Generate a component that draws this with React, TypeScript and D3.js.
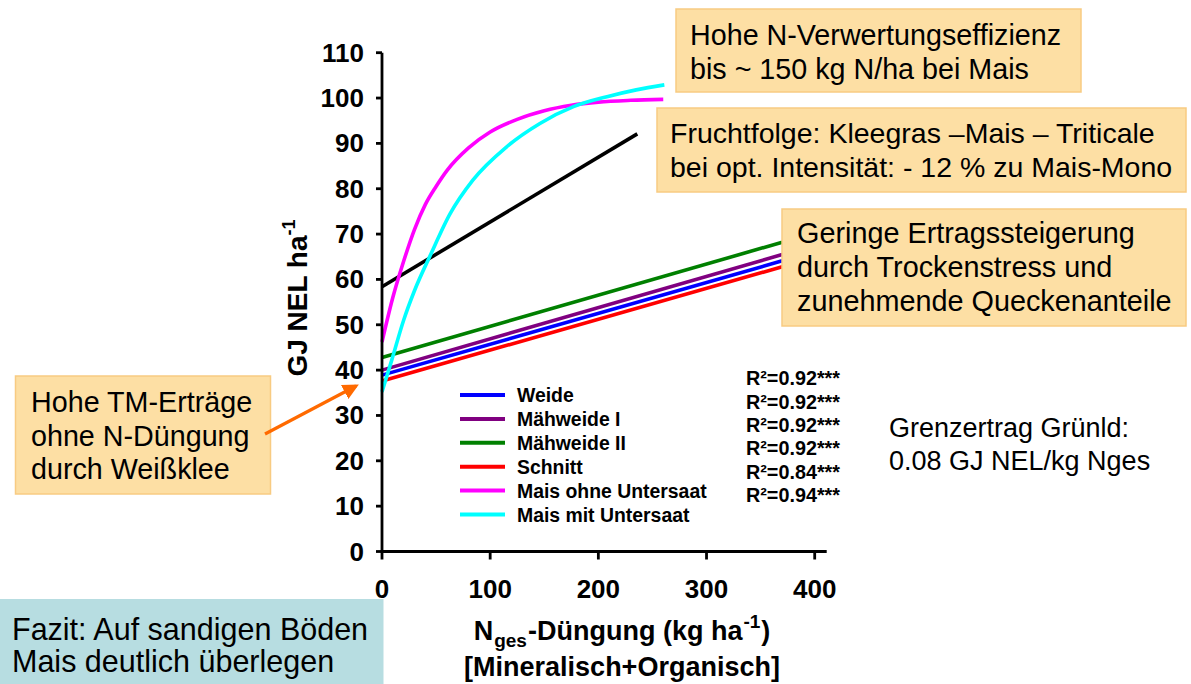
import React from "react";
import * as d3 from "d3";

// ---------- data ----------
const xTicks = [0, 100, 200, 300, 400];
const yTicks = [0, 10, 20, 30, 40, 50, 60, 70, 80, 90, 100, 110];

type Pt = [number, number];
const weide: Pt[] = [[0, 38.9], [370, 64.1]];
const maehweide1: Pt[] = [[0, 40.0], [370, 65.5]];
const maehweide2: Pt[] = [[0, 42.8], [370, 68.2]];
const schnitt: Pt[] = [[0, 37.6], [370, 62.8]];
const fruchtfolge: Pt[] = [[0, 58.4], [236, 92.1]];
const maisOhne: Pt[] = [
  [0, 46.2], [10, 56], [20, 64], [30, 71], [40, 76.5], [50, 80.5], [60, 84],
  [80, 89], [100, 92.5], [125, 95.3], [150, 97.2], [175, 98.4], [200, 99.1],
  [230, 99.5], [260, 99.7],
];
const maisMit: Pt[] = [
  [0, 35.2], [9, 42.2], [20, 51], [30, 57.5], [45, 65.5], [63, 74.5], [84, 81.9],
  [115, 89.2], [146, 94.4], [177, 98.1], [208, 100.3], [235, 101.8], [261, 102.9],
];

const legendNames = ["Weide", "Mähweide I", "Mähweide II", "Schnitt", "Mais ohne Untersaat", "Mais mit Untersaat"];
const legendColors = ["#0000FF", "#800080", "#008000", "#FF0000", "#FF00FF", "#00FFFF"];
const r2Labels = ["R²=0.92***", "R²=0.92***", "R²=0.92***", "R²=0.92***", "R²=0.84***", "R²=0.94***"];

const box1Lines = ["Hohe N-Verwertungseffizienz", "bis ~ 150 kg N/ha bei Mais"];
const box2Lines = ["Fruchtfolge: Kleegras –Mais – Triticale", "bei opt. Intensität: - 12 % zu Mais-Mono"];
const box3Lines = ["Geringe Ertragssteigerung", "durch Trockenstress und", "zunehmende Queckenanteile"];
const box4Lines = ["Hohe TM-Erträge", "ohne N-Düngung", "durch Weißklee"];
const grenzLines = ["Grenzertrag Grünld:", "0.08 GJ NEL/kg Nges"];
const fazitLines = ["Fazit: Auf sandigen Böden", "Mais deutlich überlegen"];

// ---------- layout ----------
const W = 1191;
const H = 684;
const FONT = "'Liberation Sans', Arial, Helvetica, sans-serif";
const x = d3.scaleLinear().domain([0, 400]).range([382, 814.7]);
const y = d3.scaleLinear().domain([0, 110]).range([551.5, 52.7]);

const line = d3.line<Pt>().x((d) => x(d[0])).y((d) => y(d[1]));
const smooth = d3.line<Pt>().x((d) => x(d[0])).y((d) => y(d[1])).curve(d3.curveMonotoneX);

const BOX_FILL = "#FDDFA4";
const BOX_STROKE = "#F8CB82";

function Box({ x0, y0, w, h, lines, tx, ty, lh, fs }: any) {
  return (
    <g>
      <rect x={x0} y={y0} width={w} height={h} fill={BOX_FILL} stroke={BOX_STROKE} strokeWidth={1.5} />
      {lines.map((t: string, i: number) => (
        <text key={i} x={tx} y={ty + i * lh} fontSize={fs} fontFamily={FONT} fill="#000">
          {t}
        </text>
      ))}
    </g>
  );
}

export default function App() {
  const series: { d: Pt[]; c: string; s: boolean }[] = [
    { d: maehweide2, c: legendColors[2], s: false },
    { d: maehweide1, c: legendColors[1], s: false },
    { d: weide, c: legendColors[0], s: false },
    { d: schnitt, c: legendColors[3], s: false },
    { d: fruchtfolge, c: "#000000", s: false },
    { d: maisOhne, c: legendColors[4], s: true },
    { d: maisMit, c: legendColors[5], s: true },
  ];
  const legendY0 = 395;
  const legendStep = 23.9;
  const r2Y0 = 378.3;
  const r2Step = 23.35;

  return (
    <svg width={W} height={H} style={{ position: "absolute", left: 0, top: 0, background: "#fff" }}>
      <defs>
        <marker id="arr" viewBox="0 0 10 10" refX="8" refY="5" markerWidth="5" markerHeight="5" orient="auto">
          <path d="M0,0 L10,5 L0,10 z" fill="#FF6A00" />
        </marker>
      </defs>

      {/* series */}
      {series.map((s, i) => (
        <path key={i} d={(s.s ? smooth : line)(s.d) || ""} fill="none" stroke={s.c} strokeWidth={3.6} />
      ))}

      {/* axes */}
      <line x1={x(0)} x2={x(0)} y1={y(110)} y2={y(0)} stroke="#000" strokeWidth={2.8} />
      <line x1={x(0) - 1.4} x2={826.7} y1={y(0)} y2={y(0)} stroke="#000" strokeWidth={2.8} />
      {yTicks.map((t) => (
        <g key={"y" + t}>
          <line x1={x(0) - 6} x2={x(0)} y1={y(t)} y2={y(t)} stroke="#000" strokeWidth={2.8} />
          <text x={364} y={y(t) + 9} textAnchor="end" fontSize={26} fontWeight="bold" fontFamily={FONT}>
            {t}
          </text>
        </g>
      ))}
      {xTicks.map((t) => (
        <g key={"x" + t}>
          <line x1={x(t)} x2={x(t)} y1={y(0)} y2={y(0) + 8} stroke="#000" strokeWidth={2.8} />
          <text x={x(t)} y={598} textAnchor="middle" fontSize={26} fontWeight="bold" fontFamily={FONT}>
            {t}
          </text>
        </g>
      ))}

      {/* axis titles */}
      <text
        transform="translate(307,298) rotate(-90)"
        textAnchor="middle"
        fontSize={28}
        fontWeight="bold"
        fontFamily={FONT}
      >
        GJ NEL ha<tspan fontSize={18} dy={-12}>-1</tspan>
      </text>
      <text x={622} y={640} textAnchor="middle" fontSize={27} fontWeight="bold" fontFamily={FONT}>
        N<tspan fontSize={19} dy={7} dx={1}>ges</tspan>
        <tspan dy={-7} dx={1}>-Düngung (kg ha</tspan>
        <tspan fontSize={19} dy={-12} dx={1}>-1</tspan>
        <tspan dy={12} dx={1}>)</tspan>
      </text>
      <text x={622} y={676} textAnchor="middle" fontSize={27} fontWeight="bold" fontFamily={FONT}>
        [Mineralisch+Organisch]
      </text>

      {/* legend */}
      {legendNames.map((n, i) => (
        <g key={n}>
          <line x1={460} x2={505} y1={legendY0 + i * legendStep} y2={legendY0 + i * legendStep} stroke={legendColors[i]} strokeWidth={4} />
          <text x={517} y={legendY0 + i * legendStep + 7} fontSize={19.4} fontWeight="bold" fontFamily={FONT}>
            {n}
          </text>
        </g>
      ))}
      {r2Labels.map((r, i) => (
        <text key={i} x={746} y={r2Y0 + i * r2Step + 7} fontSize={19.8} fontWeight="bold" fontFamily={FONT}>
          {r}
        </text>
      ))}

      {/* annotation boxes */}
      <Box x0={676} y0={9} w={405} h={83} lines={box1Lines} tx={690} ty={45} lh={33.5} fs={28.7} />
      <Box x0={657} y0={108} w={529} h={84} lines={box2Lines} tx={670} ty={143} lh={33.5} fs={28.5} />
      <Box x0={782} y0={209} w={404} h={117} lines={box3Lines} tx={797} ty={243} lh={34} fs={28.8} />
      <Box x0={15.5} y0={376} w={255} h={118} lines={box4Lines} tx={31} ty={412} lh={33.5} fs={28.7} />

      {/* arrow */}
      <line x1={265} y1={434} x2={356} y2={386} stroke="#FF6A00" strokeWidth={3.2} markerEnd="url(#arr)" />

      {/* Grenzertrag */}
      {grenzLines.map((t, i) => (
        <text key={i} x={889} y={437 + i * 33} fontSize={27} fontFamily={FONT}>
          {t}
        </text>
      ))}

      {/* Fazit */}
      <rect x={0} y={599} width={383.5} height={85} fill="#B7DDE1" />
      {fazitLines.map((t, i) => (
        <text key={i} x={12} y={640 + i * 32} fontSize={30.5} fontFamily={FONT}>
          {t}
        </text>
      ))}
    </svg>
  );
}
